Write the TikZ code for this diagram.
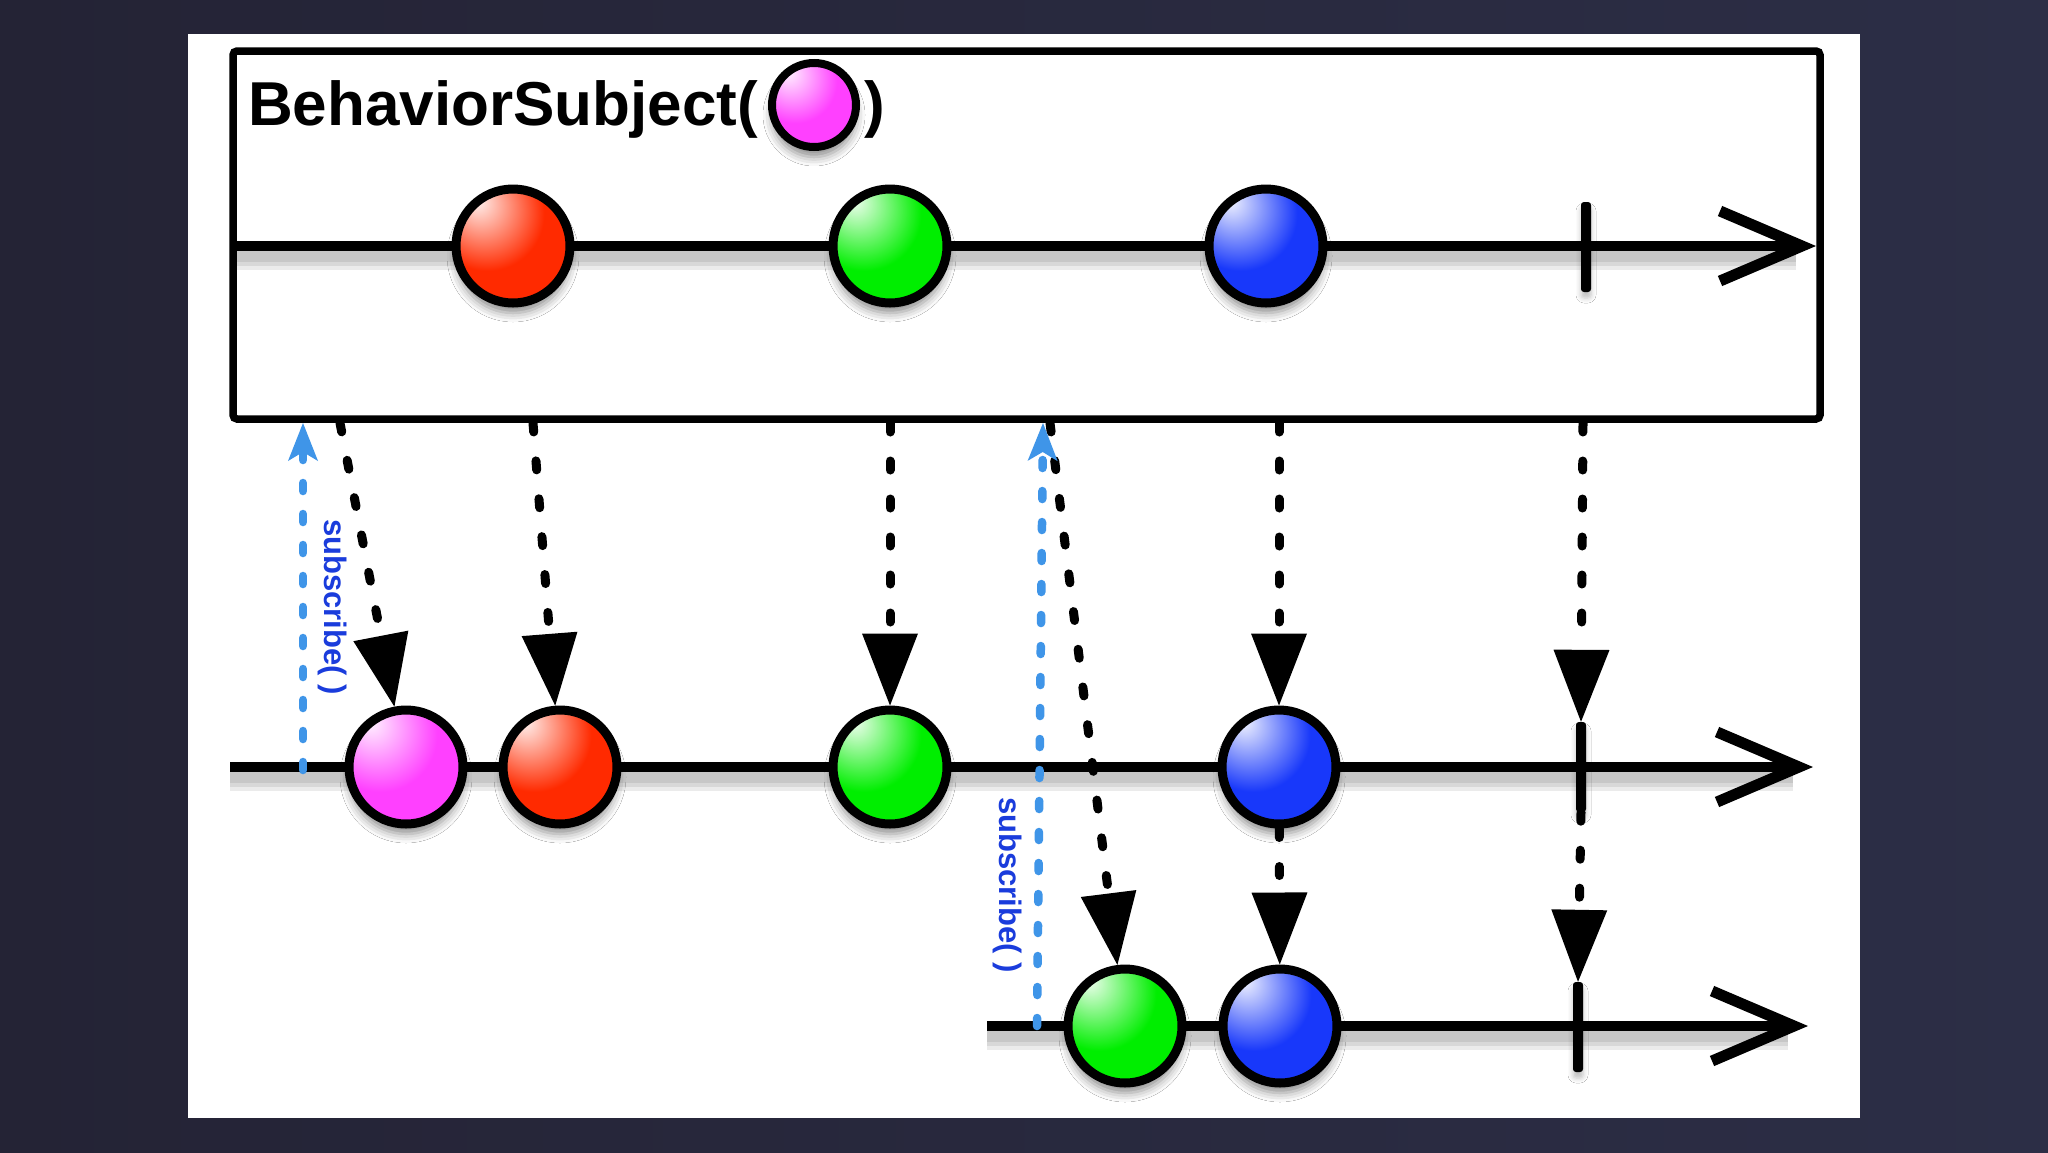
\documentclass[tikz,border=0pt]{standalone}
\usepackage{fontspec}
\setmainfont{Liberation Sans}
\usetikzlibrary{arrows.meta,shadows.blur}
\definecolor{bgl}{HTML}{242335}
\definecolor{bgr}{HTML}{2C2E46}
\definecolor{subblue}{HTML}{1A3CDC}
\definecolor{sublight}{HTML}{3F95E8}
\definecolor{mred}{HTML}{FF2A00}
\definecolor{mredd}{HTML}{B81400}
\definecolor{mgreen}{HTML}{00EE00}
\definecolor{mgreend}{HTML}{009400}
\definecolor{mblue}{HTML}{1838FA}
\definecolor{mblued}{HTML}{0A1CA0}
\definecolor{mpink}{HTML}{FF40FF}
\definecolor{mpinkd}{HTML}{B022B8}
\newcommand\mkmarbleshading[3]{%
  \pgfdeclareradialshading{#1}{\pgfpoint{-16bp}{20bp}}{%
    color(0bp)=(#2!6!white); color(9bp)=(#2!40!white); color(25bp)=(#2);
    color(50bp)=(#2); color(74bp)=(#3); color(85bp)=(#3)}}
\mkmarbleshading{redball}{mred}{mredd}
\mkmarbleshading{greenball}{mgreen}{mgreend}
\mkmarbleshading{blueball}{mblue}{mblued}
\mkmarbleshading{pinkball}{mpink}{mpinkd}
\begin{document}
\begin{tikzpicture}[x=1pt,y=-1pt,
  marble/.style={circle, draw=black, line width=9pt, minimum size=114pt,
    inner sep=0pt, shade, shading=#1,
    blur shadow={shadow xshift=0pt, shadow yshift=-10pt, shadow blur radius=9pt, shadow opacity=45}},
  tickmark/.style={rectangle, fill=black, draw=none, minimum width=10pt,
    minimum height=90pt, inner sep=0pt, rounded corners=3pt,
    blur shadow={shadow xshift=0pt, shadow yshift=-6pt, shadow blur radius=5pt, shadow opacity=25}},
  timeline/.style={line width=10pt, -{Straight Barb[length=82pt,width=70pt,line width=11pt]}},
  tshadow/.style={line width=#1, draw=black, draw opacity=0.08},
  subjbox/.style={line width=7.5pt, rounded corners=4pt},
  dasharrow/.style={line width=9pt, line cap=round, dash pattern=on 9pt off 29pt,
    -{Triangle[length=72pt,width=56pt,line width=0pt]}},
  subarrow/.style={draw=sublight, line width=8.5pt, line cap=round, dash pattern=on 8pt off 23pt,
    -{Stealth[length=38pt,width=30pt,inset=9pt,line width=0pt]}},
  sublabel/.style={font=\fontsize{31}{31}\selectfont\bfseries, text=subblue, inner sep=0pt, rotate=-90},
  title/.style={font=\fontsize{62}{62}\selectfont\bfseries, inner sep=0pt, anchor=base west}
]
\useasboundingbox (0,0) rectangle (2048,1152);
\shade[left color=bgl, right color=bgr] (0,0) rectangle (2048,1152);
\fill[white] (188,34) rectangle (1860,1118);

% subject box
\coordinate (bx1) at (233,51);
\coordinate (bx2) at (1820,419);
\draw[subjbox] (bx1) rectangle (bx2);

% title
\node[title] (ttl) at (248,125) {BehaviorSubject(};
\node[marble=pinkball, minimum size=84pt, line width=8pt] (tm) at (814,105) {};
\node[title] (ttr) at (864,125) {)};

% timelines
\coordinate (l1s) at (233,246);  \coordinate (l1e) at (1816,246);
\coordinate (l2s) at (230,767);  \coordinate (l2e) at (1813,767);
\coordinate (l3s) at (987,1026); \coordinate (l3e) at (1808,1026);
\foreach \w in {28pt,19pt,11pt}{
  \draw[tshadow=\w] ([yshift=-10pt]l1s) -- ([yshift=-10pt,xshift=-20pt]l1e);
  \draw[tshadow=\w] ([yshift=-10pt]l2s) -- ([yshift=-10pt,xshift=-20pt]l2e);
  \draw[tshadow=\w] ([yshift=-10pt]l3s) -- ([yshift=-10pt,xshift=-20pt]l3e);
}
\draw[timeline] (l1s) -- (l1e);
\draw[timeline] (l2s) -- (l2e);
\draw[timeline] (l3s) -- (l3e);

% top marbles
\node[marble=redball]   (r1) at (513,246) {};
\node[marble=greenball] (g1) at (890,246) {};
\node[marble=blueball]  (b1) at (1266,246) {};
\node[tickmark]         (t1) at (1586,247) {};

% middle marbles
\node[marble=pinkball]  (p2) at (406,767) {};
\node[marble=redball]   (r2) at (560,767) {};
\node[marble=greenball] (g2) at (890,767) {};
\node[marble=blueball]  (b2) at (1279,767) {};
\node[tickmark]         (t2) at (1581,767) {};

% bottom marbles
\node[marble=greenball] (g3) at (1125,1026) {};
\node[marble=blueball]  (b3) at (1280,1026) {};
\node[tickmark]         (t3) at (1578,1027) {};

% emission arrows
\coordinate (a1) at (340,423);
\coordinate (a2) at (533,423);
\coordinate (a3) at (890,423);
\coordinate (a4) at (1279,423);
\coordinate (a5) at (1583,423);
\coordinate (a6) at (1050,423);
\draw[dasharrow] (a1) -- (p2);
\draw[dasharrow] (a2) -- (r2);
\draw[dasharrow] (a3) -- (g2);
\draw[dasharrow] (a4) -- (b2);
\draw[dasharrow] (a5) -- (t2.north);
\draw[dasharrow] (a6) -- (g3);
\draw[dasharrow] (b2) -- (b3);
\draw[dasharrow] (t2.south) -- (t3.north);

% subscribe arrows
\coordinate (s1a) at (303,770);  \coordinate (s1b) at (303,423);
\coordinate (s2a) at (1037,1026); \coordinate (s2b) at (1043,423);
\draw[subarrow] (s1a) -- (s1b);
\draw[subarrow] (s2a) -- (s2b);
\node[sublabel] (lab1) at (333,607) {subscribe( )};
\node[sublabel] (lab2) at (1008,885) {subscribe( )};
\end{tikzpicture}
\end{document}
